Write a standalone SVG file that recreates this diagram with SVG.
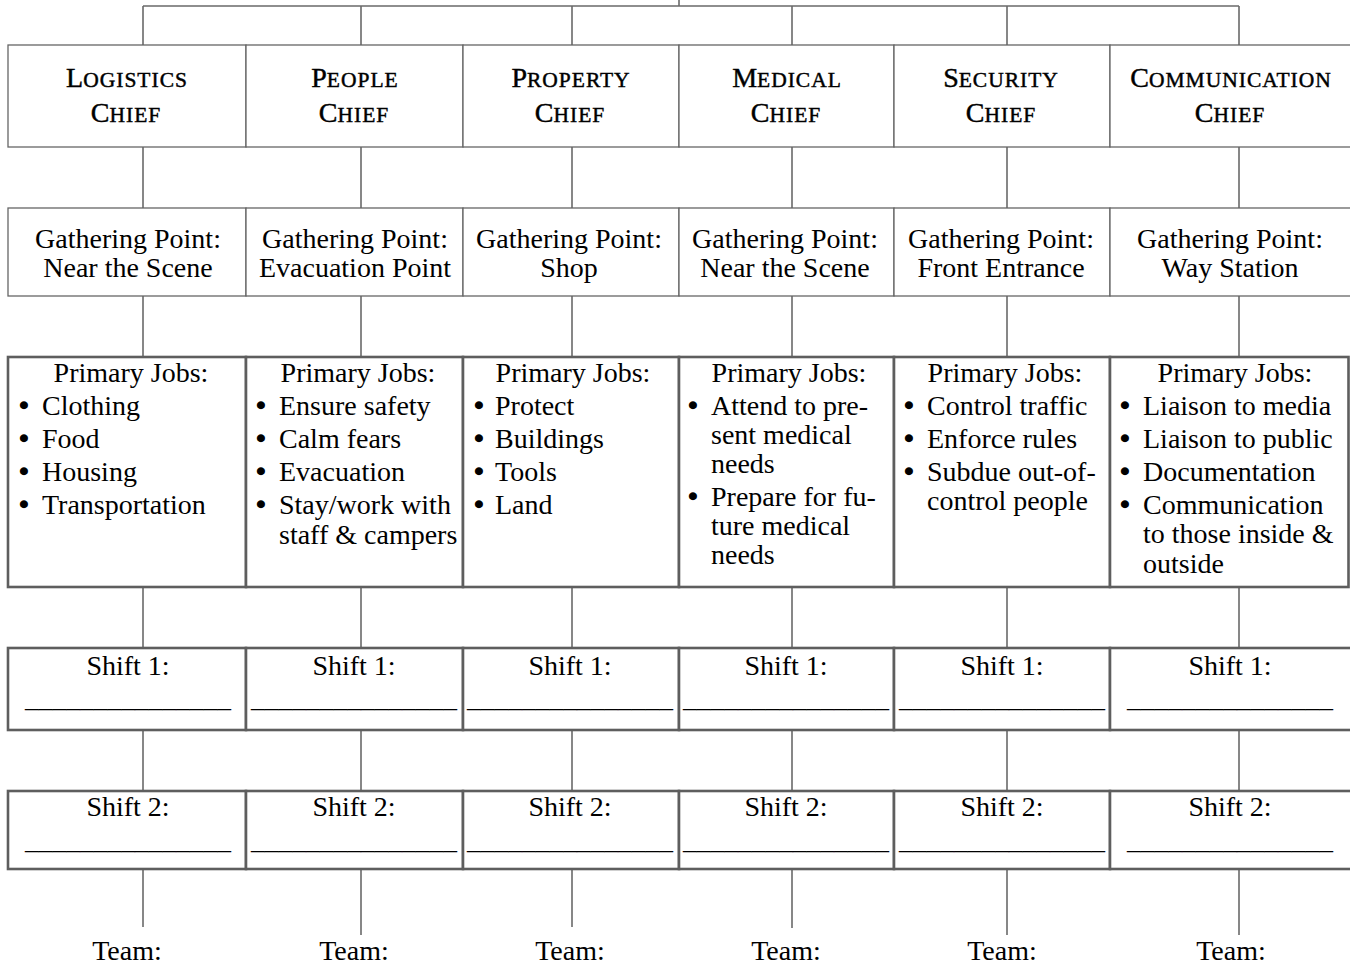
<svg xmlns="http://www.w3.org/2000/svg" width="1350" height="966" viewBox="0 0 1350 966" font-family="'Liberation Serif', serif">
<style>
.cell{fill:#fff;stroke:#666;stroke-width:1.3}
.cellb{fill:#fff;stroke:#5e5e5e;stroke-width:2.6}
.conn{stroke:#6a6a6a;stroke-width:1.6;fill:none}
.t{font-family:'Liberation Serif',serif;font-size:28px;fill:#000}
.c{text-anchor:middle}
.hd{stroke:#000;stroke-width:0.45}
.h{font-size:21.5px;letter-spacing:1px}
.hb{font-size:28px}
.b{font-family:'Liberation Serif',serif;font-size:28px;fill:#000;stroke:#000;stroke-width:1.4;text-anchor:middle}
.u{font-family:'Liberation Serif',serif;font-size:28px;fill:#000;text-anchor:middle}
</style>
<rect width="1350" height="966" fill="#fff"/>
<g id="connectors" class="conn">
<path d="M679 0V6M143 6H1239"/>
<path d="M143 6V45M361 6V45M572 6V45M792 6V45M1007 6V45M1239 6V45"/>
<path d="M143 147V208M361 147V208M572 147V208M792 147V208M1007 147V208M1239 147V208"/>
<path d="M143 296V357M361 296V357M572 296V357M792 296V357M1007 296V357M1239 296V357"/>
<path d="M143 587V648M361 587V648M572 587V648M792 587V648M1007 587V648M1239 587V648"/>
<path d="M143 730V791M361 730V791M572 730V791M792 730V791M1007 730V791M1239 730V791"/>
<path d="M143 869V927M361 869V935M572 869V927M792 869V928M1007 869V935M1239 869V935"/>
</g>
<g id="chief-logistics"><rect class="cell" x="8" y="45" width="238" height="102"/>
<text class="t c hd" x="127" y="87"><tspan class="hb">L</tspan><tspan class="h">OGISTICS</tspan></text>
<text class="t c hd" x="126" y="122"><tspan class="hb">C</tspan><tspan class="h">HIEF</tspan></text></g>
<g id="chief-people"><rect class="cell" x="246" y="45" width="217" height="102"/>
<text class="t c hd" x="355" y="87"><tspan class="hb">P</tspan><tspan class="h">EOPLE</tspan></text>
<text class="t c hd" x="354" y="122"><tspan class="hb">C</tspan><tspan class="h">HIEF</tspan></text></g>
<g id="chief-property"><rect class="cell" x="463" y="45" width="216" height="102"/>
<text class="t c hd" x="571" y="87"><tspan class="hb">P</tspan><tspan class="h">ROPERTY</tspan></text>
<text class="t c hd" x="570" y="122"><tspan class="hb">C</tspan><tspan class="h">HIEF</tspan></text></g>
<g id="chief-medical"><rect class="cell" x="679" y="45" width="215" height="102"/>
<text class="t c hd" x="787" y="87"><tspan class="hb">M</tspan><tspan class="h">EDICAL</tspan></text>
<text class="t c hd" x="786" y="122"><tspan class="hb">C</tspan><tspan class="h">HIEF</tspan></text></g>
<g id="chief-security"><rect class="cell" x="894" y="45" width="216" height="102"/>
<text class="t c hd" x="1001" y="87"><tspan class="hb">S</tspan><tspan class="h">ECURITY</tspan></text>
<text class="t c hd" x="1001" y="122"><tspan class="hb">C</tspan><tspan class="h">HIEF</tspan></text></g>
<g id="chief-communication"><rect class="cell" x="1110" y="45" width="242" height="102"/>
<text class="t c hd" x="1231" y="87"><tspan class="hb">C</tspan><tspan class="h">OMMUNICATION</tspan></text>
<text class="t c hd" x="1230" y="122"><tspan class="hb">C</tspan><tspan class="h">HIEF</tspan></text></g>

<g id="gather-logistics"><rect class="cell" x="8" y="208" width="238" height="88"/>
<text class="t c" x="128" y="248">Gathering Point:</text><text class="t c" x="128" y="277">Near the Scene</text></g>
<g id="gather-people"><rect class="cell" x="246" y="208" width="217" height="88"/>
<text class="t c" x="355" y="248">Gathering Point:</text><text class="t c" x="355" y="277">Evacuation Point</text></g>
<g id="gather-property"><rect class="cell" x="463" y="208" width="216" height="88"/>
<text class="t c" x="569" y="248">Gathering Point:</text><text class="t c" x="569" y="277">Shop</text></g>
<g id="gather-medical"><rect class="cell" x="679" y="208" width="215" height="88"/>
<text class="t c" x="785" y="248">Gathering Point:</text><text class="t c" x="785" y="277">Near the Scene</text></g>
<g id="gather-security"><rect class="cell" x="894" y="208" width="216" height="88"/>
<text class="t c" x="1001" y="248">Gathering Point:</text><text class="t c" x="1001" y="277">Front Entrance</text></g>
<g id="gather-communication"><rect class="cell" x="1110" y="208" width="242" height="88"/>
<text class="t c" x="1230" y="248">Gathering Point:</text><text class="t c" x="1230" y="277">Way Station</text></g>

<g id="jobs-logistics"><rect class="cellb" x="8" y="357" width="238" height="230"/>
<text class="t c" x="131" y="382">Primary Jobs:</text>
<text class="b" x="24" y="415">•</text><text class="t" x="42" y="415">Clothing</text>
<text class="b" x="24" y="448">•</text><text class="t" x="42" y="448">Food</text>
<text class="b" x="24" y="481">•</text><text class="t" x="42" y="481">Housing</text>
<text class="b" x="24" y="514">•</text><text class="t" x="42" y="514">Transportation</text></g>
<g id="jobs-people"><rect class="cellb" x="246" y="357" width="217" height="230"/>
<text class="t c" x="358" y="382">Primary Jobs:</text>
<text class="b" x="261" y="415">•</text><text class="t" x="279" y="415">Ensure safety</text>
<text class="b" x="261" y="448">•</text><text class="t" x="279" y="448">Calm fears</text>
<text class="b" x="261" y="481">•</text><text class="t" x="279" y="481">Evacuation</text>
<text class="b" x="261" y="514">•</text><text class="t" x="279" y="514">Stay/work with</text>
<text class="t" x="279" y="544">staff &amp; campers</text></g>
<g id="jobs-property"><rect class="cellb" x="463" y="357" width="216" height="230"/>
<text class="t c" x="573" y="382">Primary Jobs:</text>
<text class="b" x="479" y="415">•</text><text class="t" x="495" y="415">Protect</text>
<text class="b" x="479" y="448">•</text><text class="t" x="495" y="448">Buildings</text>
<text class="b" x="479" y="481">•</text><text class="t" x="495" y="481">Tools</text>
<text class="b" x="479" y="514">•</text><text class="t" x="495" y="514">Land</text></g>
<g id="jobs-medical"><rect class="cellb" x="679" y="357" width="215" height="230"/>
<text class="t c" x="789" y="382">Primary Jobs:</text>
<text class="b" x="693" y="415">•</text><text class="t" x="711" y="415">Attend to pre-</text>
<text class="t" x="711" y="444">sent medical</text>
<text class="t" x="711" y="473">needs</text>
<text class="b" x="693" y="506">•</text><text class="t" x="711" y="506">Prepare for fu-</text>
<text class="t" x="711" y="535">ture medical</text>
<text class="t" x="711" y="564">needs</text></g>
<g id="jobs-security"><rect class="cellb" x="894" y="357" width="216" height="230"/>
<text class="t c" x="1005" y="382">Primary Jobs:</text>
<text class="b" x="909" y="415">•</text><text class="t" x="927" y="415">Control traffic</text>
<text class="b" x="909" y="448">•</text><text class="t" x="927" y="448">Enforce rules</text>
<text class="b" x="909" y="481">•</text><text class="t" x="927" y="481">Subdue out-of-</text>
<text class="t" x="927" y="510">control people</text></g>
<g id="jobs-communication"><rect class="cellb" x="1110" y="357" width="238.5" height="230"/>
<text class="t c" x="1235" y="382">Primary Jobs:</text>
<text class="b" x="1125" y="415">•</text><text class="t" x="1143" y="415">Liaison to media</text>
<text class="b" x="1125" y="448">•</text><text class="t" x="1143" y="448">Liaison to public</text>
<text class="b" x="1125" y="481">•</text><text class="t" x="1143" y="481">Documentation</text>
<text class="b" x="1125" y="514">•</text><text class="t" x="1143" y="514">Communication</text>
<text class="t" x="1143" y="543">to those inside &amp;</text>
<text class="t" x="1143" y="573">outside</text></g>

<g id="shift1-logistics"><rect class="cellb" x="8" y="648" width="238" height="82"/>
<text class="t c" x="128" y="675">Shift 1:</text><text class="u" x="128" y="707" textLength="206" lengthAdjust="spacingAndGlyphs">_______________</text></g>
<g id="shift1-people"><rect class="cellb" x="246" y="648" width="217" height="82"/>
<text class="t c" x="354" y="675">Shift 1:</text><text class="u" x="354" y="707" textLength="206" lengthAdjust="spacingAndGlyphs">_______________</text></g>
<g id="shift1-property"><rect class="cellb" x="463" y="648" width="216" height="82"/>
<text class="t c" x="570" y="675">Shift 1:</text><text class="u" x="570" y="707" textLength="206" lengthAdjust="spacingAndGlyphs">_______________</text></g>
<g id="shift1-medical"><rect class="cellb" x="679" y="648" width="215" height="82"/>
<text class="t c" x="786" y="675">Shift 1:</text><text class="u" x="786" y="707" textLength="206" lengthAdjust="spacingAndGlyphs">_______________</text></g>
<g id="shift1-security"><rect class="cellb" x="894" y="648" width="216" height="82"/>
<text class="t c" x="1002" y="675">Shift 1:</text><text class="u" x="1002" y="707" textLength="206" lengthAdjust="spacingAndGlyphs">_______________</text></g>
<g id="shift1-communication"><rect class="cellb" x="1110" y="648" width="242" height="82"/>
<text class="t c" x="1230" y="675">Shift 1:</text><text class="u" x="1230" y="707" textLength="206" lengthAdjust="spacingAndGlyphs">_______________</text></g>

<g id="shift2-logistics"><rect class="cellb" x="8" y="791" width="238" height="78"/>
<text class="t c" x="128" y="816">Shift 2:</text><text class="u" x="128" y="849" textLength="206" lengthAdjust="spacingAndGlyphs">_______________</text></g>
<g id="shift2-people"><rect class="cellb" x="246" y="791" width="217" height="78"/>
<text class="t c" x="354" y="816">Shift 2:</text><text class="u" x="354" y="849" textLength="206" lengthAdjust="spacingAndGlyphs">_______________</text></g>
<g id="shift2-property"><rect class="cellb" x="463" y="791" width="216" height="78"/>
<text class="t c" x="570" y="816">Shift 2:</text><text class="u" x="570" y="849" textLength="206" lengthAdjust="spacingAndGlyphs">_______________</text></g>
<g id="shift2-medical"><rect class="cellb" x="679" y="791" width="215" height="78"/>
<text class="t c" x="786" y="816">Shift 2:</text><text class="u" x="786" y="849" textLength="206" lengthAdjust="spacingAndGlyphs">_______________</text></g>
<g id="shift2-security"><rect class="cellb" x="894" y="791" width="216" height="78"/>
<text class="t c" x="1002" y="816">Shift 2:</text><text class="u" x="1002" y="849" textLength="206" lengthAdjust="spacingAndGlyphs">_______________</text></g>
<g id="shift2-communication"><rect class="cellb" x="1110" y="791" width="242" height="78"/>
<text class="t c" x="1230" y="816">Shift 2:</text><text class="u" x="1230" y="849" textLength="206" lengthAdjust="spacingAndGlyphs">_______________</text></g>

<g id="team-logistics"><text class="t c" x="127" y="960">Team:</text></g>
<g id="team-people"><text class="t c" x="354" y="960">Team:</text></g>
<g id="team-property"><text class="t c" x="570" y="960">Team:</text></g>
<g id="team-medical"><text class="t c" x="786" y="960">Team:</text></g>
<g id="team-security"><text class="t c" x="1002" y="960">Team:</text></g>
<g id="team-communication"><text class="t c" x="1231" y="960">Team:</text></g>
</svg>
